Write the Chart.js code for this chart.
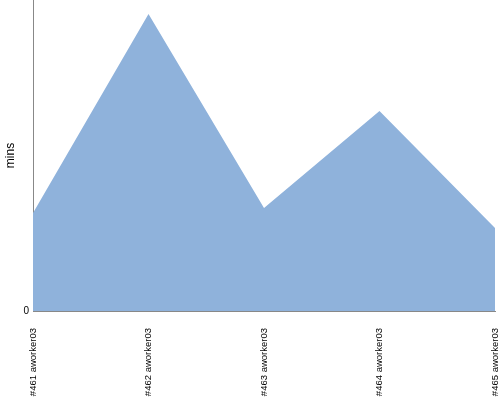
<!DOCTYPE html>
<html>
<head>
<meta charset="utf-8">
<script src="https://cdn.jsdelivr.net/npm/chart.js@4/dist/chart.umd.min.js"></script>
<style>
html,body{margin:0;padding:0;background:#fff;}
#wrap{width:500px;height:400px;}
</style>
</head>
<body>
<div id="wrap"><canvas id="c" width="500" height="400"></canvas></div>
<script>
const categories = ["#461 aworker03", "#462 aworker03", "#463 aworker03", "#464 aworker03", "#465 aworker03"];
const minsValues = [3.15, 9.55, 3.31, 6.43, 2.67];
const yTickLabels = ["0"];

new Chart(document.getElementById('c'), {
  type: 'line',
  data: {
    labels: categories,
    datasets: [{
      data: minsValues,
      fill: 'origin',
      backgroundColor: '#8fb2db',
      borderWidth: 0,
      borderColor: 'rgba(0,0,0,0)',
      pointRadius: 0,
      tension: 0
    }]
  },
  options: {
    responsive: false,
    animation: false,
    layout: { padding: { top: 0, right: 5, left: 0, bottom: 0 } },
    plugins: { legend: { display: false }, tooltip: { enabled: false } },
    scales: {
      x: {
        offset: false,
        grid: { display: false, drawTicks: false },
        border: { color: '#888', width: 1 },
        ticks: {
          minRotation: 90, maxRotation: 90, autoSkip: false,
          color: '#000', padding: 17,
          font: { family: 'Liberation Sans', size: 9.5 }
        },
        afterFit: (s) => { s.height = 89; s.paddingLeft = 0; s.paddingRight = 0; }
      },
      y: {
        min: 0, max: 10,
        grid: { display: false, drawTicks: false },
        border: { color: '#888', width: 1 },
        title: { display: true, text: 'mins', color: '#000', font: { family: 'Liberation Sans', size: 12 }, padding: { top: 3, bottom: 0 } },
        ticks: {
          color: '#000', padding: 4,
          font: { family: 'Liberation Sans', size: 10 },
          stepSize: 10,
          callback: (v) => v === 0 ? yTickLabels[0] : ''
        },
        afterFit: (s) => { s.width = 33; s.paddingTop = 0; s.paddingBottom = 0; }
      }
    }
  }
});
</script>
</body>
</html>
